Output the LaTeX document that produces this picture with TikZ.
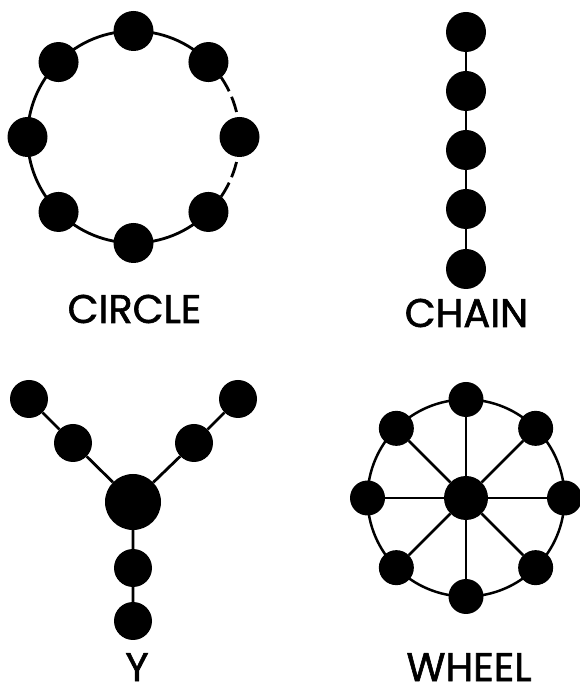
\documentclass[tikz,border=0pt]{standalone}
\usepackage{fontspec}
\usetikzlibrary{calc,backgrounds}
\newfontfamily\labfont[FakeBold=1.5]{Poppins}
\begin{document}
\begin{tikzpicture}[x=1pt,y=1pt,
  dot/.style={circle,fill=black,inner sep=0pt,minimum size=#1},
  dot/.default=40pt,
  link/.style={line width=2.8pt,black},
  dlink/.style={link,dash pattern=on 16pt off 6pt,dash phase=2pt},
  wlink/.style={link,line width=2.5pt},
  lab/.style={font=\labfont\fontsize{40}{40}\selectfont,inner sep=0pt,anchor=base}]
\useasboundingbox (0,0) rectangle (579,686);
% CIRCLE
\foreach \n/\a in {c1/90,c2/135,c3/180,c4/225,c5/270,c6/315,c7/0,c8/45}
  \node[dot] (\n) at ($(133.5,549)+(\a:106)$) {};
\begin{scope}[on background layer]
\draw[link] (c8.center) arc[start angle=45,end angle=315,radius=106];
\draw[dlink] (c8.center) arc[start angle=45,end angle=0,radius=106];
\draw[dlink] (c6.center) arc[start angle=-45,end angle=0,radius=106];
\end{scope}
\node[lab] (lcircle) at (134.5,363) {CIRCLE};
% CHAIN
\node[dot] (h1) at (466,654) {};
\node[dot] (h2) at (466,595) {};
\node[dot] (h3) at (466,536) {};
\node[dot] (h4) at (466,477) {};
\node[dot] (h5) at (466,417) {};
\draw[link] (h1) -- (h2) (h2) -- (h3) (h3) -- (h4) (h4) -- (h5);
\node[lab] (lchain) at (466.5,359) {CHAIN};
% Y
\node[dot=56pt] (y0) at (133,184) {};
\node[dot=38pt] (yl1) at (73,243) {};
\node[dot=38pt] (yl2) at (29,287) {};
\node[dot=38pt] (yr1) at (194,243) {};
\node[dot=38pt] (yr2) at (238,287) {};
\node[dot=38pt] (yd1) at (133,118) {};
\node[dot=38pt] (yd2) at (133,65) {};
\draw[link] (y0) -- (yl1) -- (yl2) (y0) -- (yr1) -- (yr2) (y0) -- (yd1) -- (yd2);
\node[lab] (ly) at (137,5) {Y};
% WHEEL
\node[dot=44pt] (w0) at (466,188) {};
\foreach \n/\a in {w1/90,w2/135,w3/180,w4/225,w5/270,w6/315,w7/0,w8/45}
  \node[dot=35pt] (\n) at ($(w0.center)+(\a:98.5)$) {};
\begin{scope}[on background layer]
\foreach \n in {w1,w2,w3,w4,w5,w6,w7,w8}
  \draw[wlink] (w0) -- (\n);
\draw[wlink] (w1.center) arc[start angle=90,end angle=450,radius=98.5];
\end{scope}
\node[lab] (lwheel) at (469,5) {WHEEL};
\end{tikzpicture}
\end{document}
